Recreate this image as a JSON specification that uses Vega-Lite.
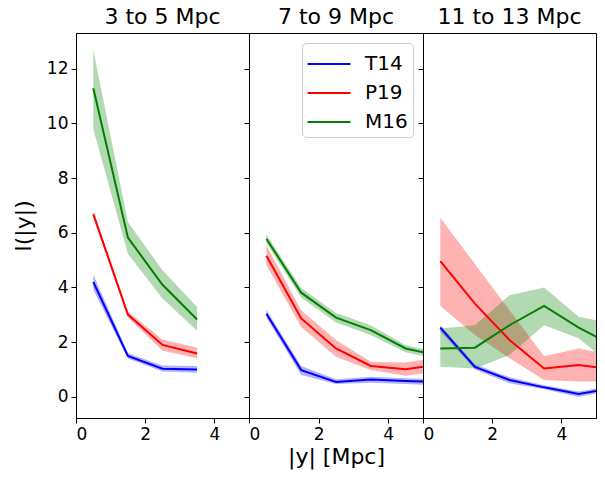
{
  "$schema": "https://vega.github.io/schema/vega-lite/v6.json",
  "padding": {"left": 11, "top": 5, "right": 5, "bottom": 5},
  "background": "white",
  "data": {"values": [
    {"panel": "3 to 5 Mpc", "series": "T14", "x": 0.5, "y": 4.2, "lo": 3.92, "hi": 4.47},
    {"panel": "3 to 5 Mpc", "series": "T14", "x": 1.5, "y": 1.5, "lo": 1.4, "hi": 1.6},
    {"panel": "3 to 5 Mpc", "series": "T14", "x": 2.5, "y": 1.03, "lo": 0.93, "hi": 1.15},
    {"panel": "3 to 5 Mpc", "series": "T14", "x": 3.5, "y": 1.0, "lo": 0.88, "hi": 1.13},
    {"panel": "3 to 5 Mpc", "series": "P19", "x": 0.5, "y": 6.68, "lo": 6.57, "hi": 6.8},
    {"panel": "3 to 5 Mpc", "series": "P19", "x": 1.5, "y": 3.01, "lo": 2.9, "hi": 3.12},
    {"panel": "3 to 5 Mpc", "series": "P19", "x": 2.5, "y": 1.9, "lo": 1.69, "hi": 2.1},
    {"panel": "3 to 5 Mpc", "series": "P19", "x": 3.5, "y": 1.59, "lo": 1.41, "hi": 1.8},
    {"panel": "3 to 5 Mpc", "series": "M16", "x": 0.5, "y": 11.28, "lo": 9.79, "hi": 12.68},
    {"panel": "3 to 5 Mpc", "series": "M16", "x": 1.5, "y": 5.82, "lo": 5.23, "hi": 6.39},
    {"panel": "3 to 5 Mpc", "series": "M16", "x": 2.5, "y": 4.1, "lo": 3.6, "hi": 4.63},
    {"panel": "3 to 5 Mpc", "series": "M16", "x": 3.5, "y": 2.83, "lo": 2.42, "hi": 3.29},

    {"panel": "7 to 9 Mpc", "series": "T14", "x": 0.5, "y": 3.04, "lo": 2.9, "hi": 3.19},
    {"panel": "7 to 9 Mpc", "series": "T14", "x": 1.5, "y": 0.98, "lo": 0.8, "hi": 1.13},
    {"panel": "7 to 9 Mpc", "series": "T14", "x": 2.5, "y": 0.55, "lo": 0.47, "hi": 0.65},
    {"panel": "7 to 9 Mpc", "series": "T14", "x": 3.5, "y": 0.64, "lo": 0.52, "hi": 0.74},
    {"panel": "7 to 9 Mpc", "series": "T14", "x": 4.5, "y": 0.58, "lo": 0.47, "hi": 0.68},
    {"panel": "7 to 9 Mpc", "series": "T14", "x": 5.5, "y": 0.54, "lo": 0.42, "hi": 0.64},
    {"panel": "7 to 9 Mpc", "series": "P19", "x": 0.5, "y": 5.16, "lo": 4.81, "hi": 5.54},
    {"panel": "7 to 9 Mpc", "series": "P19", "x": 1.5, "y": 2.87, "lo": 2.56, "hi": 3.17},
    {"panel": "7 to 9 Mpc", "series": "P19", "x": 2.5, "y": 1.77, "lo": 1.47, "hi": 2.08},
    {"panel": "7 to 9 Mpc", "series": "P19", "x": 3.5, "y": 1.13, "lo": 0.98, "hi": 1.29},
    {"panel": "7 to 9 Mpc", "series": "P19", "x": 4.5, "y": 1.01, "lo": 0.77, "hi": 1.26},
    {"panel": "7 to 9 Mpc", "series": "P19", "x": 5.5, "y": 1.19, "lo": 0.95, "hi": 1.45},
    {"panel": "7 to 9 Mpc", "series": "M16", "x": 0.5, "y": 5.78, "lo": 5.62, "hi": 5.94},
    {"panel": "7 to 9 Mpc", "series": "M16", "x": 1.5, "y": 3.81, "lo": 3.63, "hi": 3.98},
    {"panel": "7 to 9 Mpc", "series": "M16", "x": 2.5, "y": 2.9, "lo": 2.72, "hi": 3.07},
    {"panel": "7 to 9 Mpc", "series": "M16", "x": 3.5, "y": 2.44, "lo": 2.26, "hi": 2.62},
    {"panel": "7 to 9 Mpc", "series": "M16", "x": 4.5, "y": 1.77, "lo": 1.63, "hi": 1.89},
    {"panel": "7 to 9 Mpc", "series": "M16", "x": 5.5, "y": 1.49, "lo": 1.37, "hi": 1.61},

    {"panel": "11 to 13 Mpc", "series": "T14", "x": 0.5, "y": 2.53, "lo": 2.4, "hi": 2.63},
    {"panel": "11 to 13 Mpc", "series": "T14", "x": 1.5, "y": 1.1, "lo": 1.0, "hi": 1.19},
    {"panel": "11 to 13 Mpc", "series": "T14", "x": 2.5, "y": 0.62, "lo": 0.5, "hi": 0.72},
    {"panel": "11 to 13 Mpc", "series": "T14", "x": 3.5, "y": 0.35, "lo": 0.28, "hi": 0.43},
    {"panel": "11 to 13 Mpc", "series": "T14", "x": 4.5, "y": 0.11, "lo": 0.0, "hi": 0.2},
    {"panel": "11 to 13 Mpc", "series": "T14", "x": 5.5, "y": 0.33, "lo": 0.25, "hi": 0.42},
    {"panel": "11 to 13 Mpc", "series": "P19", "x": 0.5, "y": 4.96, "lo": 3.32, "hi": 6.55},
    {"panel": "11 to 13 Mpc", "series": "P19", "x": 1.5, "y": 3.41, "lo": 2.26, "hi": 4.86},
    {"panel": "11 to 13 Mpc", "series": "P19", "x": 2.5, "y": 2.08, "lo": 1.41, "hi": 3.17},
    {"panel": "11 to 13 Mpc", "series": "P19", "x": 3.5, "y": 1.04, "lo": 0.62, "hi": 1.49},
    {"panel": "11 to 13 Mpc", "series": "P19", "x": 4.5, "y": 1.17, "lo": 0.56, "hi": 1.77},
    {"panel": "11 to 13 Mpc", "series": "P19", "x": 5.5, "y": 1.0, "lo": 0.56, "hi": 1.53},
    {"panel": "11 to 13 Mpc", "series": "M16", "x": 0.5, "y": 1.77, "lo": 1.1, "hi": 2.5},
    {"panel": "11 to 13 Mpc", "series": "M16", "x": 1.5, "y": 1.8, "lo": 1.04, "hi": 2.62},
    {"panel": "11 to 13 Mpc", "series": "M16", "x": 2.5, "y": 2.62, "lo": 1.53, "hi": 3.72},
    {"panel": "11 to 13 Mpc", "series": "M16", "x": 3.5, "y": 3.33, "lo": 2.62, "hi": 4.0},
    {"panel": "11 to 13 Mpc", "series": "M16", "x": 4.5, "y": 2.53, "lo": 2.14, "hi": 2.93},
    {"panel": "11 to 13 Mpc", "series": "M16", "x": 5.5, "y": 1.87, "lo": 1.1, "hi": 2.67}
  ]},
  "bounds": "flush",
  "hconcat": [
    {
      "width": 173, "height": 385,
      "title": "3 to 5 Mpc",
      "transform": [{"filter": "datum.panel === '3 to 5 Mpc'"}],
      "layer": [
        {
          "mark": {"type": "area", "opacity": 0.3, "clip": true},
          "encoding": {
            "x": {"field": "x", "type": "quantitative", "scale": {"domain": [0, 5], "nice": false}, "axis": {"values": [0, 2, 4], "title": null}},
            "y": {"field": "lo", "type": "quantitative", "scale": {"domain": [-0.77, 13.3], "nice": false, "zero": false}, "axis": {"values": [0, 2, 4, 6, 8, 10, 12], "title": "I(|y|)", "titlePadding": 11}},
            "y2": {"field": "hi"},
            "color": {"field": "series", "type": "nominal", "scale": {"domain": ["T14", "P19", "M16"], "range": ["#0000ff", "#ff0000", "#008000"]}, "legend": null}
          }
        },
        {
          "mark": {"type": "line", "strokeWidth": 2, "clip": true},
          "encoding": {
            "x": {"field": "x", "type": "quantitative"},
            "y": {"field": "y", "type": "quantitative"},
            "color": {"field": "series", "type": "nominal", "legend": null}
          }
        }
      ]
    },
    {
      "width": 174, "height": 385,
      "title": "7 to 9 Mpc",
      "transform": [{"filter": "datum.panel === '7 to 9 Mpc'"}],
      "encoding": {
        "color": {"field": "series", "type": "nominal", "scale": {"domain": ["T14", "P19", "M16"], "range": ["#0000ff", "#ff0000", "#008000"]},
          "legend": {"orient": "top-right", "title": null, "symbolType": "M-1.43,0H1.43", "symbolStrokeWidth": 2, "symbolSize": 900, "symbolOpacity": 1, "symbolOffset": 6, "labelFontSize": 20, "labelOffset": 20, "rowPadding": 3, "strokeColor": "#cccccc", "cornerRadius": 4, "padding": 5, "offset": 10, "fillColor": "white"}}
      },
      "layer": [
        {
          "mark": {"type": "area", "opacity": 0.3, "clip": true},
          "encoding": {
            "x": {"field": "x", "type": "quantitative", "scale": {"domain": [0, 5], "nice": false}, "axis": {"values": [0, 2, 4], "title": "|y| [Mpc]"}},
            "y": {"field": "lo", "type": "quantitative", "scale": {"domain": [-0.77, 13.3], "nice": false, "zero": false}, "axis": {"values": [0, 2, 4, 6, 8, 10, 12], "labels": false, "title": null}},
            "y2": {"field": "hi"}
          }
        },
        {
          "mark": {"type": "line", "strokeWidth": 2, "clip": true},
          "encoding": {
            "x": {"field": "x", "type": "quantitative"},
            "y": {"field": "y", "type": "quantitative"}
          }
        }
      ]
    },
    {
      "width": 173, "height": 385,
      "title": "11 to 13 Mpc",
      "transform": [{"filter": "datum.panel === '11 to 13 Mpc'"}],
      "layer": [
        {
          "mark": {"type": "area", "opacity": 0.3, "clip": true},
          "encoding": {
            "x": {"field": "x", "type": "quantitative", "scale": {"domain": [0, 5], "nice": false}, "axis": {"values": [0, 2, 4], "title": null}},
            "y": {"field": "lo", "type": "quantitative", "scale": {"domain": [-0.77, 13.3], "nice": false, "zero": false}, "axis": {"values": [0, 2, 4, 6, 8, 10, 12], "labels": false, "title": null}},
            "y2": {"field": "hi"},
            "color": {"field": "series", "type": "nominal", "scale": {"domain": ["T14", "P19", "M16"], "range": ["#0000ff", "#ff0000", "#008000"]}, "legend": null}
          }
        },
        {
          "mark": {"type": "line", "strokeWidth": 2, "clip": true},
          "encoding": {
            "x": {"field": "x", "type": "quantitative"},
            "y": {"field": "y", "type": "quantitative"},
            "color": {"field": "series", "type": "nominal", "legend": null}
          }
        }
      ]
    }
  ],
  "resolve": {"scale": {"color": "independent"}, "legend": {"color": "independent"}},
  "config": {
    "font": "DejaVu Sans",
    "view": {"stroke": "#000000", "strokeWidth": 1},
    "concat": {"spacing": 0},
    "axis": {"domainColor": "#000000", "tickColor": "#000000", "labelColor": "#000000", "titleColor": "#000000", "labelFontSize": 17, "titleFontSize": 22, "titleFontWeight": "normal", "grid": false, "tickSize": 5, "labelPadding": 3, "domain": true},
    "title": {"fontSize": 22, "fontWeight": "normal", "offset": 4, "color": "#000000"},
    "legend": {"labelColor": "#000000"}
  }
}
